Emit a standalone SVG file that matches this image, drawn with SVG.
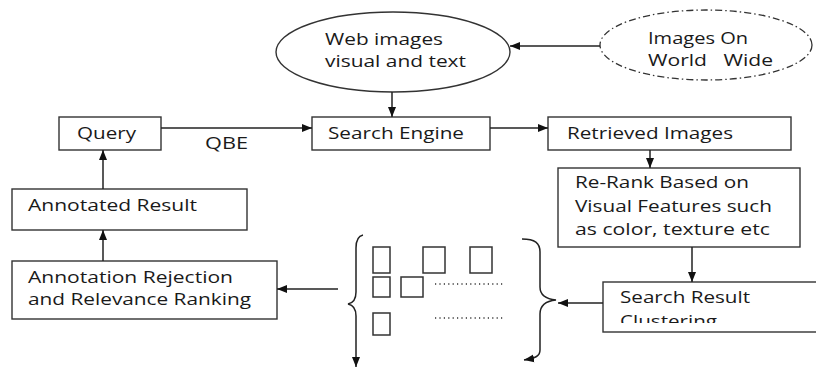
<svg xmlns="http://www.w3.org/2000/svg" width="816" height="367" viewBox="0 0 816 367">
<style>
.box{fill:#fff;stroke:#333;stroke-width:1.4}
.t{font-family:"Open Sans","Noto Sans",sans-serif;font-size:16.5px;fill:#1a1a1a}
.c{fill:none;stroke:#222;stroke-width:1.5}
.sq{fill:#fff;stroke:#333;stroke-width:1.5}
.dot{fill:none;stroke:#333;stroke-width:1.3;stroke-dasharray:1.2 3.2}
</style>
<defs>
<marker id="ah" viewBox="0 0 10 10" refX="10" refY="5" markerWidth="10" markerHeight="10" markerUnits="userSpaceOnUse" orient="auto">
<path d="M0,1 L10,5 L0,9 z" fill="#111"/>
</marker>
<clipPath id="clipClust"><rect x="603" y="282" width="213" height="41"/></clipPath>
</defs>
<rect width="816" height="367" fill="#fff"/>

<g id="web-images">
<ellipse cx="393" cy="52" rx="117" ry="40" class="box"/>
<text class="t" x="325" y="45" textLength="118" lengthAdjust="spacingAndGlyphs">Web images</text>
<text class="t" x="325" y="67" textLength="141" lengthAdjust="spacingAndGlyphs">visual and text</text>
</g>

<g id="images-world-wide">
<ellipse cx="706" cy="45" rx="106" ry="35" fill="#fff" stroke="#333" stroke-width="1.3" stroke-dasharray="7 3 1.5 3"/>
<text class="t" x="648" y="44" textLength="100" lengthAdjust="spacingAndGlyphs">Images On</text>
<text class="t" x="648" y="66" textLength="125" lengthAdjust="spacingAndGlyphs" xml:space="preserve">World   Wide</text>
</g>

<g id="query">
<rect x="59" y="117" width="102" height="33" class="box"/>
<text class="t" x="77" y="139" textLength="59" lengthAdjust="spacingAndGlyphs">Query</text>
</g>

<g id="search-engine">
<rect x="312" y="117" width="178" height="33" class="box"/>
<text class="t" x="328" y="139" textLength="136" lengthAdjust="spacingAndGlyphs">Search Engine</text>
</g>

<g id="retrieved-images">
<rect x="548" y="117" width="243" height="33" class="box"/>
<text class="t" x="567" y="139" textLength="166" lengthAdjust="spacingAndGlyphs">Retrieved Images</text>
</g>

<g id="re-rank">
<rect x="558" y="168" width="242" height="79" class="box"/>
<text class="t" x="575" y="188" textLength="174" lengthAdjust="spacingAndGlyphs">Re-Rank Based on</text>
<text class="t" x="575" y="212" textLength="197" lengthAdjust="spacingAndGlyphs">Visual Features such</text>
<text class="t" x="575" y="235" textLength="195" lengthAdjust="spacingAndGlyphs">as color, texture etc</text>
</g>

<g id="annotated-result">
<rect x="12" y="189" width="235" height="41" class="box"/>
<text class="t" x="28" y="211" textLength="169" lengthAdjust="spacingAndGlyphs">Annotated Result</text>
</g>

<g id="annotation-rejection">
<rect x="12" y="261" width="265" height="58" class="box"/>
<text class="t" x="28" y="283" textLength="205" lengthAdjust="spacingAndGlyphs">Annotation Rejection</text>
<text class="t" x="28" y="305" textLength="223" lengthAdjust="spacingAndGlyphs">and Relevance Ranking</text>
</g>

<g id="search-result-clustering">
<rect x="603" y="282" width="215" height="50" class="box"/>
<text class="t" x="620" y="303" textLength="130" lengthAdjust="spacingAndGlyphs">Search Result</text>
<g clip-path="url(#clipClust)">
<text class="t" x="620" y="327" textLength="97" lengthAdjust="spacingAndGlyphs">Clustering</text>
</g>
</g>

<g id="clusters">
<rect x="373" y="247" width="17" height="26" class="sq"/>
<rect x="423" y="247" width="22" height="26" class="sq"/>
<rect x="470" y="247" width="22" height="26" class="sq"/>
<rect x="373" y="277" width="17" height="20" class="sq"/>
<rect x="401" y="277" width="22" height="20" class="sq"/>
<rect x="373" y="313" width="17" height="22" class="sq"/>
<line x1="435" y1="284" x2="505" y2="284" class="dot"/>
<line x1="435" y1="318" x2="505" y2="318" class="dot"/>
</g>

<g id="connectors">
<line x1="600" y1="46" x2="510" y2="46" class="c" marker-end="url(#ah)"/>
<line x1="392" y1="92" x2="392" y2="117" class="c" marker-end="url(#ah)"/>
<line x1="161" y1="128" x2="312" y2="128" class="c" marker-end="url(#ah)"/>
<text class="t" x="205" y="149" textLength="43" lengthAdjust="spacingAndGlyphs">QBE</text>
<line x1="490" y1="128" x2="548" y2="128" class="c" marker-end="url(#ah)"/>
<line x1="650" y1="150" x2="650" y2="168" class="c" marker-end="url(#ah)"/>
<line x1="692" y1="247" x2="692" y2="282" class="c" marker-end="url(#ah)"/>
<line x1="603" y1="303" x2="558" y2="303" class="c" marker-end="url(#ah)"/>
<line x1="338" y1="289" x2="277" y2="289" class="c" marker-end="url(#ah)"/>
<line x1="103" y1="189" x2="103" y2="150" class="c" marker-end="url(#ah)"/>
<line x1="103" y1="261" x2="103" y2="230" class="c" marker-end="url(#ah)"/>
<path d="M522,239 C535,239 540,243 540,252 L540,287 C540,295 546,299 556,300 C546,301 540,305 540,314 L540,350 C540,356 536,358 524,360" class="c" marker-end="url(#ah)"/>
<path d="M363,235 C358,236 356,240 356,248 L356,292 C356,299 353,303 348,304 C353,305 356,309 356,316 L356,367" class="c" marker-end="url(#ah)"/>
</g>
</svg>
